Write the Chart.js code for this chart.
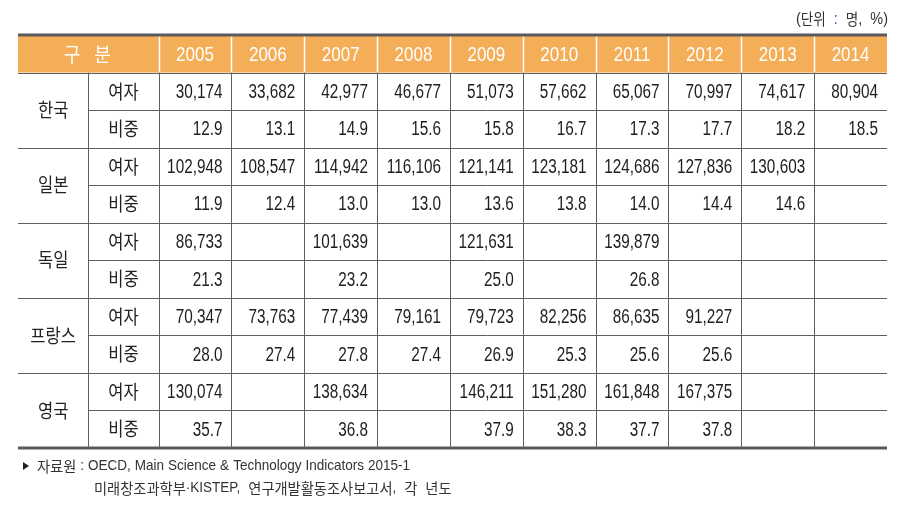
<!DOCTYPE html>
<html><head><meta charset="utf-8">
<script src="https://cdn.jsdelivr.net/npm/chart.js@4/dist/chart.umd.min.js"></script>
<style>html,body{margin:0;padding:0;background:#fff}canvas{display:block}</style>
</head><body>
<canvas id="c" width="906" height="505"></canvas>
<script>
// ---- data ----
const years = ['2005','2006','2007','2008','2009','2010','2011','2012','2013','2014'];
const countries = ['한국','일본','독일','프랑스','영국'];
const rowLabels = ['여자','비중'];
const headerLabel = '구 분';
const unitNote = ['(단위 ', ':', ' 명, %)'];
const sourceLine1 = '자료원 : OECD, Main Science & Technology Indicators 2015-1';
const sourceLine2 = '미래창조과학부·KISTEP, 연구개발활동조사보고서, 각 년도';

const koreaFemale   = [30174,33682,42977,46677,51073,57662,65067,70997,74617,80904];
const koreaShare    = [12.9,13.1,14.9,15.6,15.8,16.7,17.3,17.7,18.2,18.5];
const japanFemale   = [102948,108547,114942,116106,121141,123181,124686,127836,130603,null];
const japanShare    = [11.9,12.4,13.0,13.0,13.6,13.8,14.0,14.4,14.6,null];
const germanyFemale = [86733,null,101639,null,121631,null,139879,null,null,null];
const germanyShare  = [21.3,null,23.2,null,25.0,null,26.8,null,null,null];
const franceFemale  = [70347,73763,77439,79161,79723,82256,86635,91227,null,null];
const franceShare   = [28.0,27.4,27.8,27.4,26.9,25.3,25.6,25.6,null,null];
const ukFemale      = [130074,null,138634,null,146211,151280,161848,167375,null,null];
const ukShare       = [35.7,null,36.8,null,37.9,38.3,37.7,37.8,null,null];

const series = [
  [koreaFemale, koreaShare],
  [japanFemale, japanShare],
  [germanyFemale, germanyShare],
  [franceFemale, franceShare],
  [ukFemale, ukShare]
];

// ---- layout in table units ----
const LW = 0.965;
const nRows = 1 + countries.length * 2;
const LAT_FONT = '"Liberation Sans", Arial, sans-serif';
const KR_FONT = '"Noto Sans CJK KR", sans-serif';

const datasets = [];
series.forEach((pair, c) => {
  pair.forEach((vals, m) => {
    const row = 1 + c * 2 + m;
    datasets.push({
      label: countries[c] + ' ' + rowLabels[m],
      kind: m,
      data: vals.map((v, i) => ({x: i + 0.5, y: row + 0.5, v})).filter(p => p.v != null),
      pointRadius: 0, pointHoverRadius: 0, showLine: false
    });
  });
});

function fmt(v, kind) {
  return kind === 0 ? v.toLocaleString('en-US') : v.toFixed(1);
}

const HANGUL = /[\u1100-\u11FF\u3130-\u318F\uAC00-\uD7AF]/;
function cls(ch) { return ch === ' ' ? 's' : HANGUL.test(ch) ? 'k' : 'l'; }
function splitRuns(text) {
  const runs = [];
  for (const ch of text) {
    const k = cls(ch);
    const last = runs[runs.length - 1];
    if (last && last.k === k) last.t += ch; else runs.push({t: ch, k});
  }
  return runs;
}
// o: {kr, krSx, lat, sx, space, color, colorFn, align}
function drawMixed(ctx, text, x, y, o) {
  const krSx = o.krSx || 1;
  const runs = splitRuns(text);
  runs.forEach(r => {
    if (r.k === 's' && o.space != null) { r.w = o.space * r.t.length; return; }
    const isKr = r.k === 'k';
    ctx.font = isKr ? (o.kr + 'px ' + KR_FONT) : (o.lat + 'px ' + LAT_FONT);
    r.w = ctx.measureText(r.t).width * (isKr ? krSx : o.sx);
  });
  const total = runs.reduce((a, r) => a + r.w, 0);
  let cx = o.align === 'right' ? x - total : o.align === 'center' ? x - total / 2 : x;
  ctx.save();
  ctx.textAlign = 'left'; ctx.textBaseline = 'middle';
  runs.forEach(r => {
    if (r.k !== 's') {
      const isKr = r.k === 'k';
      ctx.fillStyle = (o.colorFn ? o.colorFn(r.t) : null) || o.color;
      ctx.font = isKr ? (o.kr + 'px ' + KR_FONT) : (o.lat + 'px ' + LAT_FONT);
      ctx.save();
      ctx.translate(cx, y);
      ctx.scale(isKr ? krSx : o.sx, 1);
      ctx.fillText(r.t, 0, 0);
      ctx.restore();
    }
    cx += r.w;
  });
  ctx.restore();
  return total;
}

const tablePlugin = {
  id: 'table',
  afterDatasetsDraw(chart) {
    const {ctx, scales: {x, y}} = chart;
    const X = v => x.getPixelForValue(v), Y = v => y.getPixelForValue(v);
    const s = v => Math.round(v) + 0.5;
    const line = (x1, y1, x2, y2) => { ctx.beginPath(); ctx.moveTo(x1, y1); ctx.lineTo(x2, y2); ctx.stroke(); };
    const left = X(-2 * LW), right = X(years.length), sub = X(-LW);
    ctx.save();
    // header background
    ctx.fillStyle = '#F5AE58';
    ctx.fillRect(left, Y(0), right - left, Y(1) - Y(0));
    ctx.strokeStyle = '#ffffff'; ctx.lineWidth = 1.5;
    for (let i = 0; i < years.length; i++) line(s(X(i)), Y(0), s(X(i)), Y(1));
    // body grid
    ctx.strokeStyle = '#5f5f5f'; ctx.lineWidth = 1;
    for (let i = 0; i < years.length; i++) line(s(X(i)), Y(1), s(X(i)), Y(nRows));
    line(s(sub), Y(1), s(sub), Y(nRows));
    line(left, s(Y(1)), right, s(Y(1)));
    for (let c = 0; c < countries.length; c++) {
      if (c > 0) line(left, s(Y(1 + 2 * c)), right, s(Y(1 + 2 * c)));
      line(sub, s(Y(2 + 2 * c)), right, s(Y(2 + 2 * c)));
    }
    ctx.strokeStyle = '#5a5a5a'; ctx.lineWidth = 3;
    line(left, Y(0), right, Y(0));
    line(left, Y(nRows), right, Y(nRows));

    // header text
    drawMixed(ctx, headerLabel, sub - 1, Y(0.5) + 1,
      {kr: 20, krSx: 0.9, lat: 20, sx: 1, space: 14, color: '#ffffff', align: 'center'});
    years.forEach((yr, i) => drawMixed(ctx, yr, X(i + 0.5), Y(0.5) + 1,
      {kr: 19, lat: 21, sx: 0.81, color: '#ffffff', align: 'center'}));

    // row labels
    const lab = {kr: 19, krSx: 0.87, lat: 19, sx: 0.85, color: '#222222', align: 'center'};
    countries.forEach((cn, c) => {
      drawMixed(ctx, cn, X(-1.5 * LW), Y(2 + 2 * c), lab);
      rowLabels.forEach((rl, m) => {
        drawMixed(ctx, rl, X(-0.5 * LW), Y(1.5 + 2 * c + m), lab);
      });
    });

    // values
    const half = (X(1) - X(0)) / 2;
    chart.data.datasets.forEach((ds, di) => {
      const meta = chart.getDatasetMeta(di);
      meta.data.forEach((el, j) => {
        drawMixed(ctx, fmt(ds.data[j].v, ds.kind), el.x + half - 9, el.y + 1,
          {kr: 17, lat: 20, sx: 0.765, color: '#1e1e1e', align: 'right'});
      });
    });

    // unit note
    drawMixed(ctx, unitNote.join(''), right + 1, Y(0) - 16,
      {kr: 16, krSx: 0.85, lat: 17, sx: 0.85, space: 8, color: '#333333', align: 'right',
       colorFn: t => t === ':' ? '#2f5f9f' : null});

    // source notes
    ctx.fillStyle = '#222222';
    const fy1 = Y(nRows) + 18, fy2 = Y(nRows) + 40;
    ctx.beginPath();
    ctx.moveTo(left + 5, fy1 - 4); ctx.lineTo(left + 11, fy1); ctx.lineTo(left + 5, fy1 + 4); ctx.closePath();
    ctx.fill();
    const foot = {kr: 15, krSx: 0.95, lat: 15, sx: 0.9, space: 4, color: '#333333', align: 'left'};
    drawMixed(ctx, sourceLine1, left + 19, fy1, foot);
    drawMixed(ctx, sourceLine2, left + 76, fy2, Object.assign({}, foot, {space: 8}));
    ctx.restore();
  }
};

new Chart(document.getElementById('c'), {
  type: 'scatter',
  data: {datasets},
  options: {
    responsive: false,
    animation: false,
    devicePixelRatio: 1,
    layout: {padding: {left: 18, right: 19, top: 35, bottom: 57}},
    plugins: {legend: {display: false}, tooltip: {enabled: false}},
    events: [],
    scales: {
      x: {type: 'linear', min: -2 * LW, max: years.length, display: false},
      y: {type: 'linear', min: 0, max: nRows, reverse: true, display: false}
    }
  },
  plugins: [tablePlugin]
});
</script>
</body></html>
